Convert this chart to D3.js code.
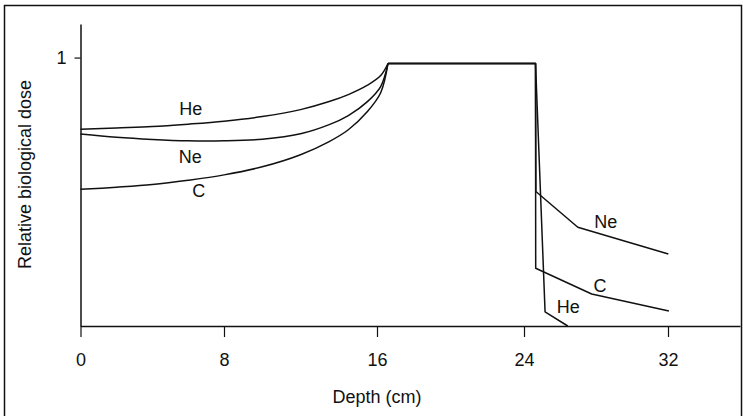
<!DOCTYPE html>
<html>
<head>
<meta charset="utf-8">
<script src="https://cdn.jsdelivr.net/npm/d3@7"></script>
<style>
  html, body { margin: 0; padding: 0; background: #fff; }
  svg { display: block; }
  text { font-family: Arial, "Liberation Sans", Helvetica, sans-serif; fill: #111; }
</style>
</head>
<body>
<svg id="chart" width="743" height="416"></svg>
<script>
// Depths (cm) sampled along the entrance region, shared by all three ions
const entryDepth = [0, 2, 4, 6, 8, 10, 12, 13.5, 14.5, 15.5, 16.2, 16.6];
// Relative biological dose along the entrance region
const heEntry = [0.733, 0.738, 0.743, 0.752, 0.763, 0.780, 0.806, 0.836, 0.862, 0.897, 0.933, 0.978];
const neEntry = [0.715, 0.703, 0.695, 0.690, 0.690, 0.696, 0.716, 0.750, 0.784, 0.836, 0.892, 0.978];
const cEntry  = [0.509, 0.517, 0.527, 0.543, 0.563, 0.593, 0.638, 0.687, 0.731, 0.799, 0.869, 0.978];

// Spread-out peak: start depth, end depth, dose
const plateauDepth = [16.6, 24.64];
const plateauDose = 0.978;

// Distal fall-off and fragmentation tail
const heTailDepth = [24.64, 25.17, 26.43];
const heTail      = [0.978, 0.053, 0.0];
const neTailDepth = [24.64, 24.66, 26.99, 32.02];
const neTail      = [0.978, 0.501, 0.368, 0.268];
const cTailDepth  = [24.64, 24.65, 27.76, 32.05];
const cTail       = [0.978, 0.215, 0.119, 0.056];

// Ion labels placed in data coordinates (text baseline)
const labelText  = ["He", "Ne", "C", "Ne", "C", "He"];
const labelDepth = [6.15, 6.12, 6.59, 28.54, 28.22, 26.46];
const labelDose  = [0.785, 0.609, 0.482, 0.365, 0.128, 0.047];

const xTicks = [0, 8, 16, 24, 32];
const yTicks = [1];

const svg = d3.select("#chart");
const FS = 18;

// Outer frame
svg.append("rect")
  .attr("x", 4.5).attr("y", 5.5)
  .attr("width", 737).attr("height", 420)
  .attr("fill", "none").attr("stroke", "#111").attr("stroke-width", 1.5);

// Depth axis is drawn with slightly uneven spacing between the labelled ticks
const x = d3.scaleLinear()
  .domain([0, 8, 16, 24, 32, 36])
  .range([80.5, 224, 377, 524, 668, 740]);

const y = d3.scaleLinear()
  .domain([0, 1.125])
  .range([326, 24]);

// X axis
const gx = svg.append("g")
  .attr("transform", `translate(0,${y(0)})`)
  .call(d3.axisBottom(x).tickValues(xTicks).tickSize(11).tickSizeOuter(0).tickFormat(d3.format("d")));
gx.select(".domain").attr("stroke", "#111").attr("stroke-width", 1.5);
gx.selectAll(".tick line").attr("stroke", "#111").attr("stroke-width", 1.2);
gx.selectAll(".tick text")
  .attr("y", 40).attr("dy", "0")
  .style("font-size", FS + "px")
  .attr("font-family", null);

// Y axis
const gy = svg.append("g")
  .attr("transform", `translate(${x(0)},0)`)
  .call(d3.axisLeft(y).tickValues(yTicks).tickSize(6).tickSizeOuter(0).tickFormat(d3.format("d")));
gy.select(".domain").attr("stroke", "#111").attr("stroke-width", 1.5);
gy.selectAll(".tick line").attr("stroke", "#111").attr("stroke-width", 1.2);
gy.selectAll(".tick text")
  .attr("x", -14)
  .style("font-size", FS + "px")
  .attr("font-family", null);

// Axis titles
svg.append("text")
  .attr("x", 377).attr("y", 403)
  .attr("text-anchor", "middle")
  .style("font-size", FS + "px")
  .text("Depth (cm)");

svg.append("text")
  .attr("transform", "translate(31,174.5) rotate(-90)")
  .attr("text-anchor", "middle")
  .style("font-size", FS + "px")
  .text("Relative biological dose");

// Curves
const smooth = d3.line()
  .x(d => x(d[0])).y(d => y(d[1]))
  .curve(d3.curveCatmullRom.alpha(0.5));
const straight = d3.line()
  .x(d => x(d[0])).y(d => y(d[1]));

const series = [
  { entry: heEntry, tailDepth: heTailDepth, tail: heTail },
  { entry: neEntry, tailDepth: neTailDepth, tail: neTail },
  { entry: cEntry,  tailDepth: cTailDepth,  tail: cTail }
];

const lines = svg.append("g")
  .attr("fill", "none").attr("stroke", "#111")
  .attr("stroke-width", 1.5).attr("stroke-linejoin", "round");

series.forEach(s => {
  lines.append("path")
    .attr("d", smooth(entryDepth.map((d, i) => [d, s.entry[i]])));
  const rest = [[plateauDepth[0], plateauDose]]
    .concat(s.tailDepth.map((d, i) => [d, s.tail[i]]));
  lines.append("path").attr("d", straight(rest));
});

// Ion labels
svg.append("g")
  .selectAll("text")
  .data(labelText)
  .join("text")
  .attr("x", (d, i) => x(labelDepth[i]))
  .attr("y", (d, i) => y(labelDose[i]))
  .attr("text-anchor", "middle")
  .style("font-size", FS + "px")
  .text(d => d);
</script>
</body>
</html>
